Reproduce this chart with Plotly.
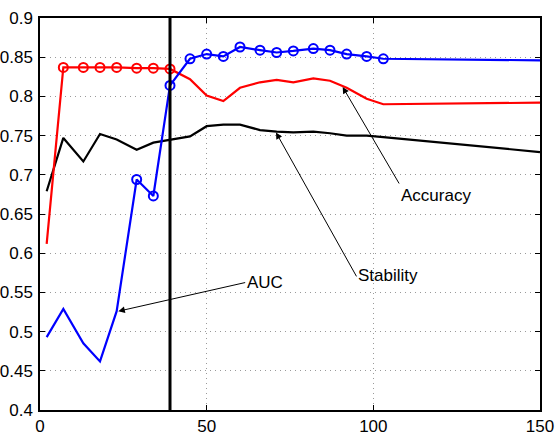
import plotly.graph_objects as go

x = [2, 7, 13, 18, 23, 29, 34, 39, 45, 50, 55, 60, 66, 71, 76, 82, 87, 92, 98, 103, 150]
auc = [0.493, 0.529, 0.485, 0.462, 0.526, 0.694, 0.673, 0.814, 0.848, 0.854, 0.851, 0.863,
       0.859, 0.856, 0.858, 0.861, 0.859, 0.854, 0.851, 0.848, 0.846]
accuracy = [0.612, 0.837, 0.837, 0.837, 0.837, 0.836, 0.836, 0.835, 0.822, 0.801, 0.794, 0.811,
            0.818, 0.821, 0.818, 0.823, 0.820, 0.811, 0.797, 0.790, 0.792]
stability = [0.679, 0.747, 0.717, 0.752, 0.745, 0.732, 0.741, 0.745, 0.749, 0.762, 0.764, 0.764,
             0.757, 0.755, 0.754, 0.755, 0.753, 0.750, 0.750, 0.748, 0.729]

auc_marker_idx = list(range(5, 20))
acc_marker_idx = list(range(1, 8))

cut_x = 39
xticks = [0, 50, 100, 150]
yticks = [0.4, 0.45, 0.5, 0.55, 0.6, 0.65, 0.7, 0.75, 0.8, 0.85, 0.9]
ytick_text = ["0.4", "0.45", "0.5", "0.55", "0.6", "0.65", "0.7", "0.75", "0.8", "0.85", "0.9"]

fig = go.Figure()

fig.add_trace(go.Scatter(x=x, y=stability, mode="lines", line=dict(color="black", width=2.2)))
fig.add_trace(go.Scatter(x=x, y=accuracy, mode="lines", line=dict(color="red", width=2.2)))
fig.add_trace(go.Scatter(x=[x[i] for i in acc_marker_idx], y=[accuracy[i] for i in acc_marker_idx],
                         mode="markers",
                         marker=dict(symbol="circle-open", size=9, color="red", line=dict(width=2))))
fig.add_trace(go.Scatter(x=x, y=auc, mode="lines", line=dict(color="blue", width=2.2)))
fig.add_trace(go.Scatter(x=[x[i] for i in auc_marker_idx], y=[auc[i] for i in auc_marker_idx],
                         mode="markers",
                         marker=dict(symbol="circle-open", size=9, color="blue", line=dict(width=2))))

fig.add_shape(type="line", x0=cut_x, x1=cut_x, y0=0, y1=1, xref="x", yref="paper",
              line=dict(color="black", width=3))

font = dict(family="Liberation Sans, Arial, sans-serif", size=17, color="black")

# arrows (empty text so the tail is exact)
arrows = [
    (23.5, 0.526, 62.0, 0.563),    # AUC
    (70.8, 0.754, 95.2, 0.5685),   # Stability
    (90.8, 0.812, 108.0, 0.687),   # Accuracy
]
for hx, hy, tx, ty in arrows:
    fig.add_annotation(x=hx, y=hy, ax=tx, ay=ty, xref="x", yref="y", axref="x", ayref="y",
                       text="", showarrow=True, arrowhead=2, arrowsize=1.3, arrowwidth=1,
                       arrowcolor="black")

labels = [("AUC", 67.5, 0.563), ("Stability", 104.4, 0.5713), ("Accuracy", 118.8, 0.6736)]
for t, lx, ly in labels:
    fig.add_annotation(x=lx, y=ly, xref="x", yref="y", text=t, showarrow=False, font=font)

axis_common = dict(showline=True, linecolor="black", linewidth=1.5, mirror="ticks",
                   ticks="inside", ticklen=5, tickcolor="black", tickwidth=1,
                   showgrid=True, gridcolor="#9a9a9a", griddash="1px,4px", gridwidth=1,
                   zeroline=False, tickfont=font, automargin=False)

fig.update_xaxes(range=[0, 150], tickvals=xticks, ticklabelstandoff=0, **axis_common)
fig.update_yaxes(range=[0.4, 0.9], tickvals=yticks, ticktext=ytick_text, ticklabelstandoff=2,
                 **axis_common)

fig.update_layout(width=556, height=435, showlegend=False,
                  margin=dict(l=40, r=16, t=18, b=25, autoexpand=False),
                  plot_bgcolor="white", paper_bgcolor="white")

fig.write_html("out.html", config={"displayModeBar": False},
               post_script="document.body.style.margin='0';")
